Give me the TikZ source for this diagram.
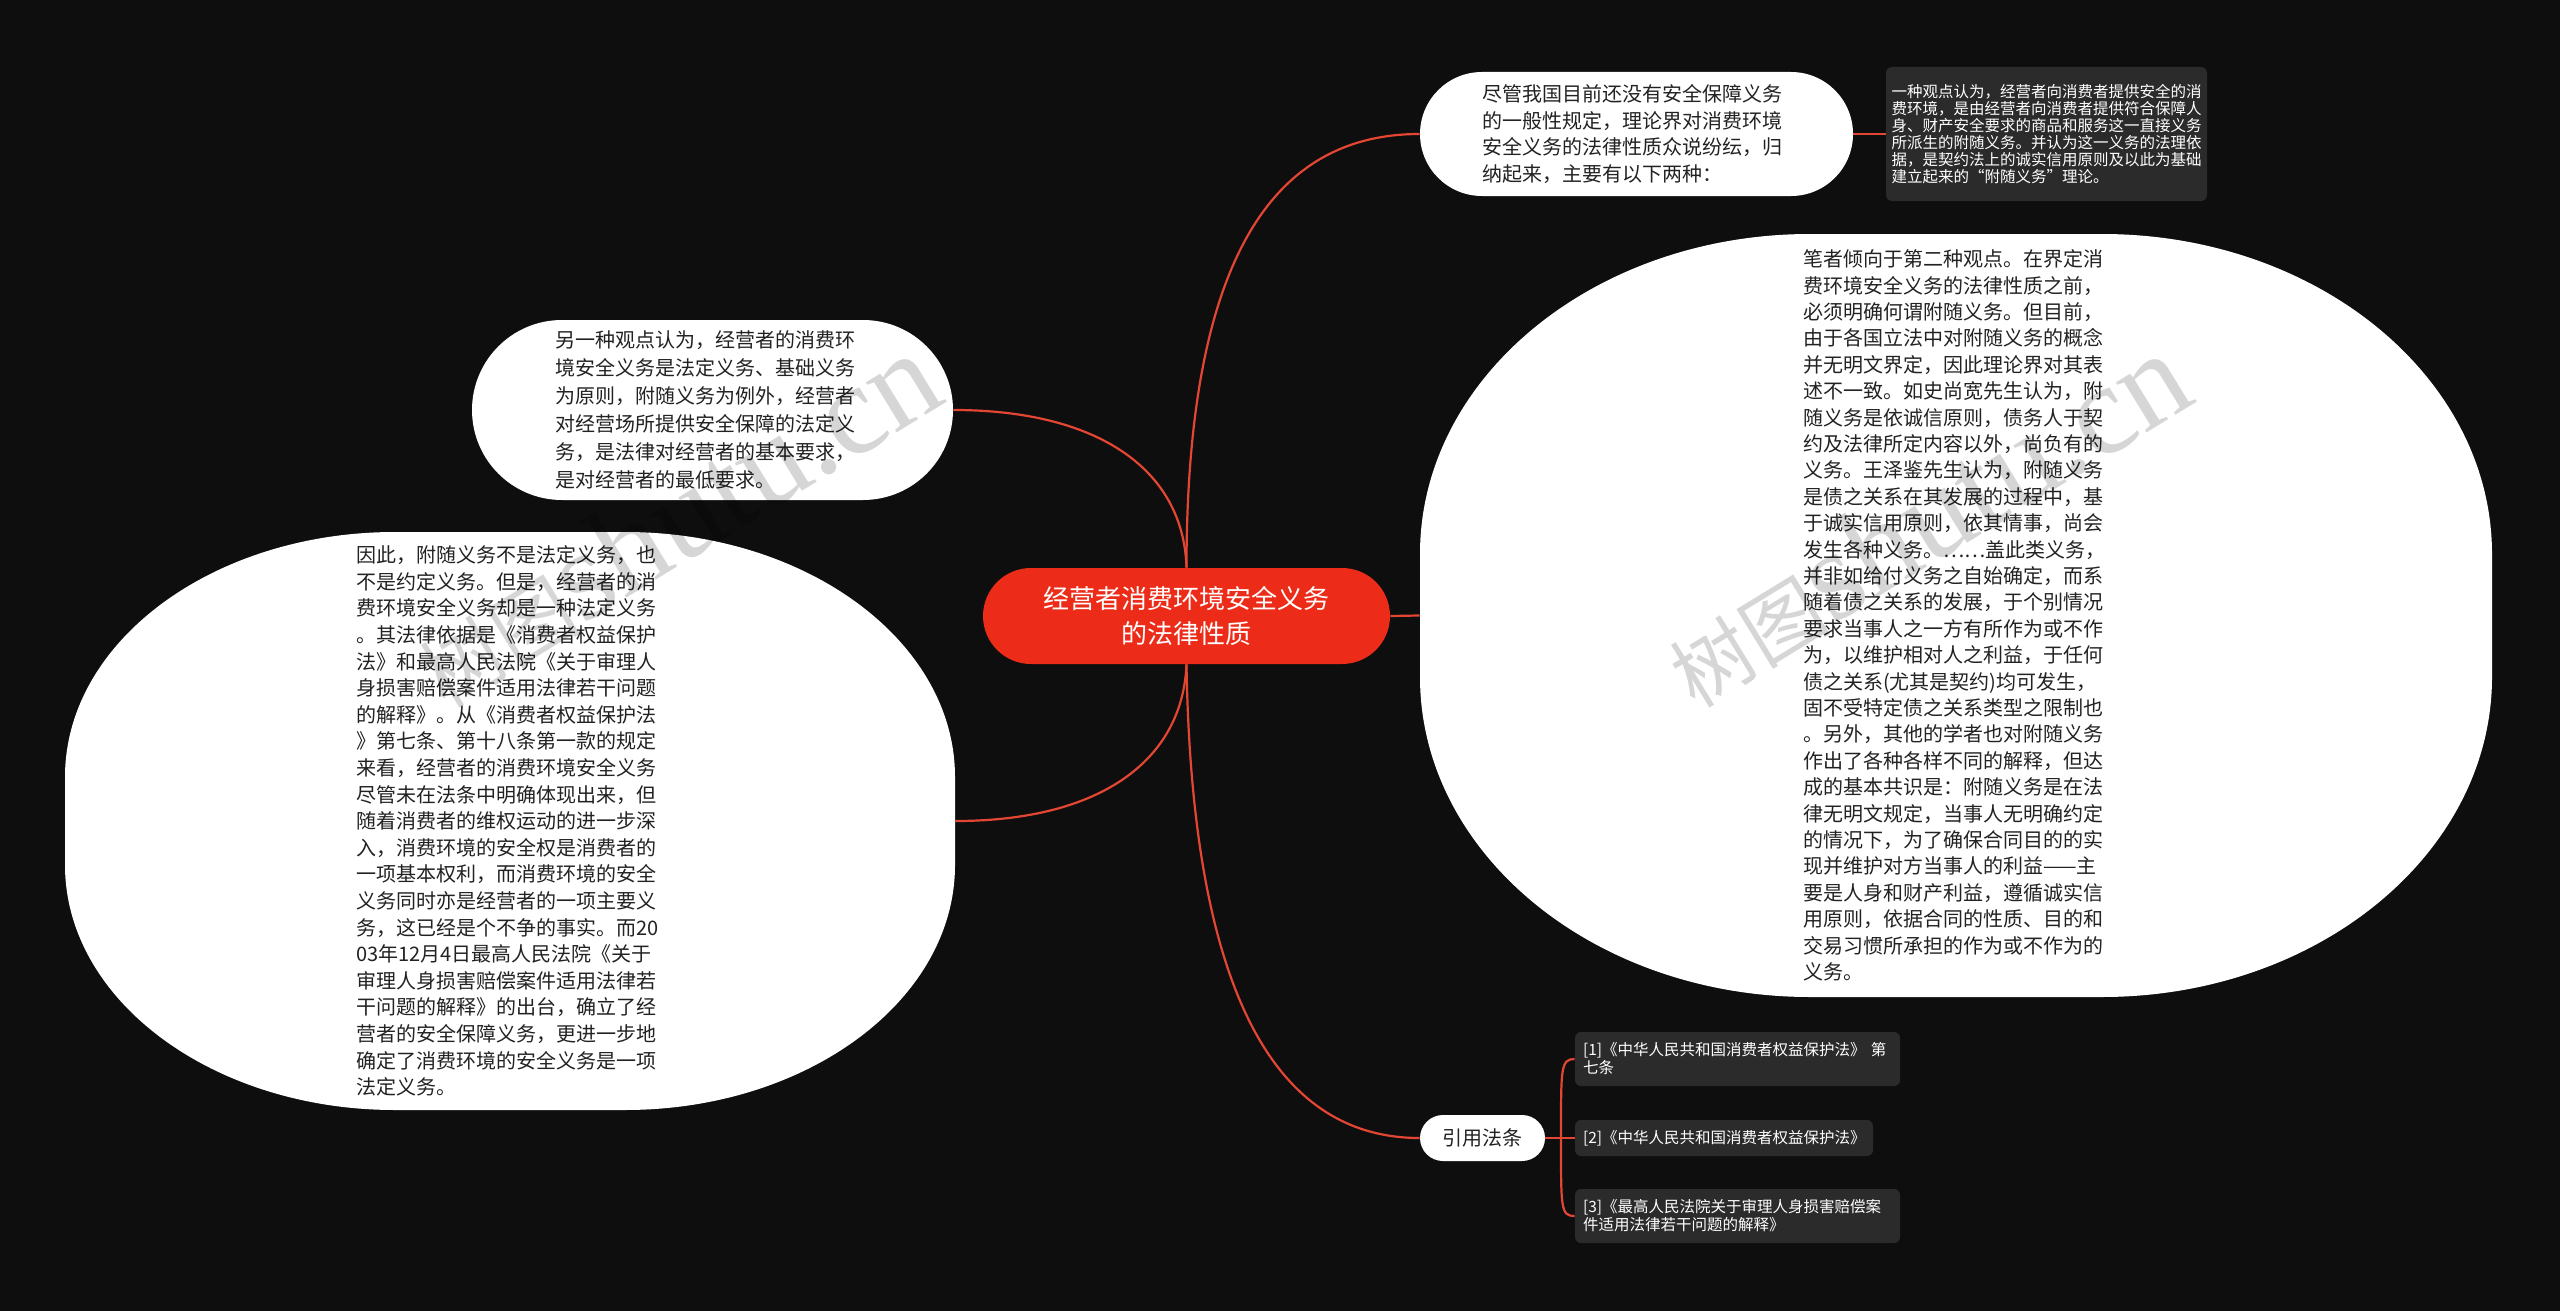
\documentclass[tikz,border=0pt]{standalone}
\usepackage{fontspec}
\setmainfont{Noto Sans CJK SC}
\newfontfamily\wmserif{Liberation Serif}
\pgfdeclarelayer{bg}
\pgfdeclarelayer{shapes}
\pgfsetlayers{bg,shapes,main}
\definecolor{bgc}{HTML}{0E0E0E}
\definecolor{rootc}{RGB}{236,44,24}
\definecolor{linec}{RGB}{228,70,52}
\definecolor{boxc}{HTML}{2B2B2B}
\definecolor{txtc}{HTML}{222222}
\tikzset{
 conn/.style={draw=linec, line width=1.1pt},
 bubble/.style={fill=white, text=txtc, inner sep=0pt, align=left, font=\fontsize{10}{13.3}\selectfont},
 blobtext/.style={text=txtc, inner sep=0pt, align=left, font=\fontsize{10}{13.3}\selectfont},
 darkbox/.style={fill=boxc, text=white, rounded corners=3pt, inner xsep=4pt, inner ysep=0pt, align=left, font=\fontsize{7.75}{9}\selectfont},
 wmark/.style={text=black, text opacity=0.16, rotate=31.5, inner sep=0pt}
}
\newcommand{\drawblob}[5]{%
\begin{pgfonlayer}{shapes}
\fill[white, shift={(#1.center)}] ({-#2+#4},{-#3}) -- ({#2-#4},{-#3}) .. controls ({#2-0.448*#4},{-#3}) and ({#2},{-#3+0.448*#5}) .. ({#2},{-#3+#5}) -- ({#2},{#3-#5}) .. controls ({#2},{#3-0.448*#5}) and ({#2-0.448*#4},{#3}) .. ({#2-#4},{#3}) -- ({-#2+#4},{#3}) .. controls ({-#2+0.448*#4},{#3}) and ({-#2},{#3-0.448*#5}) .. ({-#2},{#3-#5}) -- ({-#2},{-#3+#5}) .. controls ({-#2},{-#3+0.448*#5}) and ({-#2+0.448*#4},{-#3}) .. cycle;
\end{pgfonlayer}}
\begin{document}
\begin{tikzpicture}[x=0.5pt,y=-0.5pt]
\useasboundingbox (0,0) rectangle (2560,1311);

\node[fill=rootc, text=white, rounded corners=24pt, minimum width=203.5pt, minimum height=48pt, align=center, inner sep=0pt, font=\fontsize{13}{17.5}\selectfont] (root) at (1186.5,616) {经营者消费环境安全义务\\的法律性质};

\node[bubble, rounded corners=31pt, minimum width=216.5pt, minimum height=62pt, text width=154.5pt] (A) at (1636.5,134) {尽管我国目前还没有安全保障义务\\的一般性规定，理论界对消费环境\\安全义务的法律性质众说纷纭，归\\纳起来，主要有以下两种：};

\node[darkbox, inner xsep=2.75pt, minimum width=160.5pt, minimum height=67pt, text width=155pt, font=\fontsize{7.75}{8.45}\selectfont] (A1) at (2046.5,134) {一种观点认为，经营者向消费者提供安全的消\\费环境，是由经营者向消费者提供符合保障人\\身、财产安全要求的商品和服务这一直接义务\\所派生的附随义务。并认为这一义务的法理依\\据，是契约法上的诚实信用原则及以此为基础\\建立起来的“附随义务”理论。};

\node[bubble, rounded corners=45pt, minimum width=240.5pt, minimum height=90pt, text width=157.5pt, font=\fontsize{10}{14}\selectfont] (B) at (712.5,410) {另一种观点认为，经营者的消费环\\境安全义务是法定义务、基础义务\\为原则，附随义务为例外，经营者\\对经营场所提供安全保障的法定义\\务，是法律对经营者的基本要求，\\是对经营者的最低要求。};

\node[blobtext, minimum width=445pt, minimum height=289pt, text width=154pt] (C) at (510,821) {因此，附随义务不是法定义务，也\\不是约定义务。但是，经营者的消\\费环境安全义务却是一种法定义务\\。其法律依据是《消费者权益保护\\法》和最高人民法院《关于审理人\\身损害赔偿案件适用法律若干问题\\的解释》。从《消费者权益保护法\\》第七条、第十八条第一款的规定\\来看，经营者的消费环境安全义务\\尽管未在法条中明确体现出来，但\\随着消费者的维权运动的进一步深\\入，消费环境的安全权是消费者的\\一项基本权利，而消费环境的安全\\义务同时亦是经营者的一项主要义\\务，这已经是个不争的事实。而20\\03年12月4日最高人民法院《关于\\审理人身损害赔偿案件适用法律若\\干问题的解释》的出台，确立了经\\营者的安全保障义务，更进一步地\\确定了消费环境的安全义务是一项\\法定义务。};
\drawblob{C}{445}{289}{330}{245}

\node[blobtext, minimum width=536pt, minimum height=381.5pt, text width=153pt, font=\fontsize{10}{13.2}\selectfont] (D) at (1956,615.5) {笔者倾向于第二种观点。在界定消\\费环境安全义务的法律性质之前，\\必须明确何谓附随义务。但目前，\\由于各国立法中对附随义务的概念\\并无明文界定，因此理论界对其表\\述不一致。如史尚宽先生认为，附\\随义务是依诚信原则，债务人于契\\约及法律所定内容以外，尚负有的\\义务。王泽鉴先生认为，附随义务\\是债之关系在其发展的过程中，基\\于诚实信用原则，依其情事，尚会\\发生各种义务。……盖此类义务，\\并非如给付义务之自始确定，而系\\随着债之关系的发展，于个别情况\\要求当事人之一方有所作为或不作\\为，以维护相对人之利益，于任何\\债之关系(尤其是契约)均可发生，\\固不受特定债之关系类型之限制也\\。另外，其他的学者也对附随义务\\作出了各种各样不同的解释，但达\\成的基本共识是：附随义务是在法\\律无明文规定，当事人无明确约定\\的情况下，为了确保合同目的的实\\现并维护对方当事人的利益——主\\要是人身和财产利益，遵循诚实信\\用原则，依据合同的性质、目的和\\交易习惯所承担的作为或不作为的\\义务。};
\drawblob{D}{536}{381.5}{390}{320}

\node[bubble, rounded corners=11.5pt, minimum width=62.5pt, minimum height=23pt, align=center] (E) at (1482.5,1138) {引用法条};

\node[darkbox, minimum width=162.5pt, minimum height=27pt, text width=154.5pt] (R1) at (1737.5,1059) {[1]《中华人民共和国消费者权益保护法》 第\\七条};
\node[darkbox, minimum width=149pt, minimum height=18pt, text width=141pt] (R2) at (1724,1138) {[2]《中华人民共和国消费者权益保护法》};
\node[darkbox, minimum width=162.5pt, minimum height=27pt, text width=154.5pt] (R3) at (1737.5,1216) {[3]《最高人民法院关于审理人身损害赔偿案\\件适用法律若干问题的解释》};

\coordinate (Ej) at (1561,1138);

\begin{pgfonlayer}{bg}
\fill[bgc] (0,0) rectangle (2560,1311);
\draw[conn] (root.north) .. controls +(0,-320) and +(-140,0) .. (A.west);
\draw[conn] (A.east) -- (A1.west);
\draw[conn] (root.north) .. controls +(-3,-98) and +(145,0) .. (B.east);
\draw[conn] (root.south) .. controls +(-4,96) and +(145,0) .. (C.east);
\draw[conn] (root.east) -- (D.west);
\draw[conn] (root.south) .. controls +(5,316) and +(-150,0) .. (E.west);
\draw[conn] (E.east) -- (R2.west);
\draw[conn] (Ej) .. controls +(0,-70) and +(-14,0) .. (R1.west);
\draw[conn] (Ej) .. controls +(0,70) and +(-14,0) .. (R3.west);
\end{pgfonlayer}

\node[wmark] (wm1) at (676,520) {\fontsize{40}{40}\selectfont 树图{\wmserif\fontsize{64}{64}\selectfont shutu.cn}};
\node[wmark] (wm2) at (1926,520) {\fontsize{40}{40}\selectfont 树图{\wmserif\fontsize{64}{64}\selectfont shutu.cn}};
\end{tikzpicture}
\end{document}
